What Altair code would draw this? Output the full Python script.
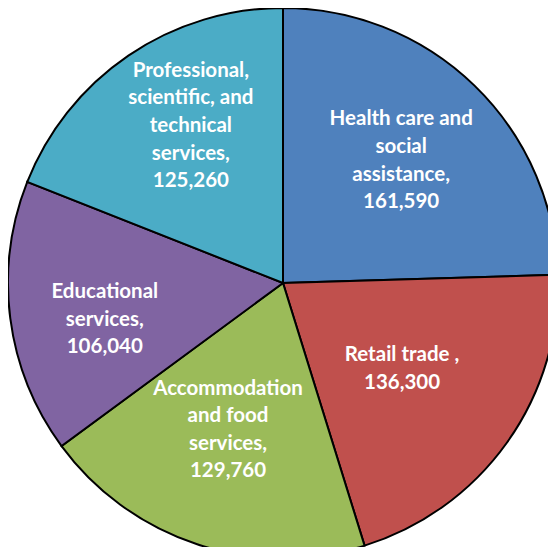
import altair as alt
import pandas as pd

categories = [
    "Health care and social assistance",
    "Retail trade",
    "Accommodation and food services",
    "Educational services",
    "Professional, scientific, and technical services",
]
values = [161590, 136300, 129760, 106040, 125260]
label_lines = [
    ["Health care and", "social", "assistance,", "161,590"],
    ["Retail trade ,", "136,300"],
    ["Accommodation", "and food", "services,", "129,760"],
    ["Educational", "services,", "106,040"],
    ["Professional,", "scientific, and", "technical", "services,", "125,260"],
]
colors = ["#4F81BD", "#C0504D", "#9BBB59", "#8064A2", "#4BACC6"]

# label layout (style only): distance from centre in px, angle nudge in degrees
label_radius = [170, 147, 157, 182, 182]
label_nudge_deg = [-0.1, 0.4, 2.3, -4.3, 3.8]

df = pd.DataFrame({
    "category": categories,
    "value": values,
    "order": list(range(len(categories))),
    "label": ["\n".join(l) for l in label_lines],
})

CX, CY, R = 275, 275, 275
FS, LH = 20.5, 27.6

pie = alt.Chart(df).mark_arc(outerRadius=R, stroke="black", strokeWidth=2).encode(
    theta=alt.Theta("value:Q", stack=True),
    order=alt.Order("order:Q"),
    color=alt.Color("category:N", scale=alt.Scale(domain=categories, range=colors), legend=None),
    x=alt.value(CX),
    y=alt.value(CY),
)

layers = [pie]
for i, cat in enumerate(categories):
    n = len(label_lines[i])
    t = alt.Chart(df).transform_window(
        cum="sum(value)", sort=[alt.SortField("order")], frame=[None, 0]
    ).transform_joinaggregate(
        total="sum(value)"
    ).transform_calculate(
        mid=f"datum.cum - datum.value / 2 + datum.total * {label_nudge_deg[i]} / 360"
    ).transform_filter(
        alt.datum.category == cat
    ).mark_text(
        font="Lato",
        fontSize=FS,
        fontWeight="bold",
        color="white",
        align="center",
        baseline="middle",
        lineBreak="\n",
        lineHeight=LH,
        dy=-(n - 1) * LH / 2,
    ).encode(
        theta=alt.Theta("mid:Q", stack=None),
        text="label:N",
        radius=alt.value(label_radius[i]),
        x=alt.value(CX),
        y=alt.value(CY),
    )
    layers.append(t)

chart = alt.layer(*layers).properties(
    width=540, height=539, padding=0, autosize="none", background="white"
).configure_view(stroke=None)

chart.save("out.html", embed_options={"renderer": "svg", "actions": False})
